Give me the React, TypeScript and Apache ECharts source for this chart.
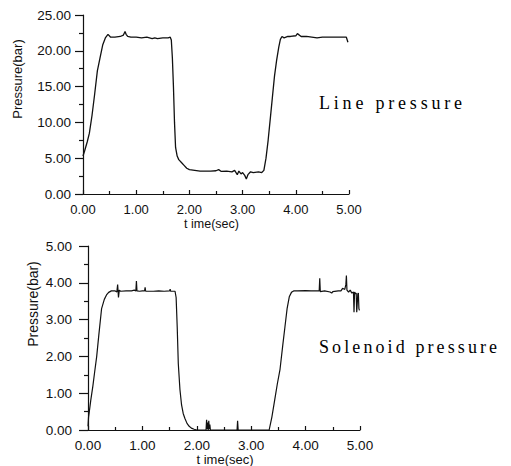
import React, { useEffect, useRef } from "react";
import * as echarts from "echarts";

// Line pressure (top chart): time in sec, pressure in bar
const lineTime = [0, 0.03, 0.08, 0.12, 0.17, 0.22, 0.27, 0.32, 0.37, 0.42, 0.47, 0.52, 0.6, 0.7, 0.76, 0.79, 0.81, 0.84, 0.9, 1.0, 1.1, 1.2, 1.3, 1.35, 1.4, 1.5, 1.6, 1.64, 1.66, 1.68, 1.7, 1.72, 1.74, 1.77, 1.8, 1.85, 1.9, 1.95, 2.0, 2.1, 2.2, 2.3, 2.4, 2.5, 2.55, 2.6, 2.7, 2.8, 2.85, 2.9, 2.93, 2.97, 3.0, 3.04, 3.07, 3.1, 3.15, 3.2, 3.3, 3.36, 3.4, 3.44, 3.48, 3.52, 3.56, 3.6, 3.64, 3.68, 3.71, 3.74, 3.78, 3.85, 3.9, 4.0, 4.03, 4.1, 4.2, 4.3, 4.4, 4.5, 4.6, 4.7, 4.8, 4.9, 4.95, 4.98];
const lineValues = [5.3, 6.0, 7.3, 8.5, 11, 14, 17.2, 19, 20.8, 21.8, 22.3, 21.9, 21.9, 22.0, 22.2, 22.7, 22.3, 22.0, 21.9, 21.9, 21.8, 21.9, 21.7, 21.8, 21.7, 21.8, 21.8, 21.9, 21.5, 19, 15, 10, 6.5, 5.3, 4.8, 4.4, 4.0, 3.6, 3.4, 3.3, 3.2, 3.2, 3.2, 3.25, 3.4, 3.15, 3.2, 3.1, 3.3, 2.7, 3.2, 2.8, 3.0, 2.6, 2.1, 2.7, 3.1, 3.0, 3.1, 3.0, 3.3, 5, 7.5, 10.5, 13.5, 16.5, 18.7, 20.5, 21.6, 22.0, 21.8, 22.0, 22.0, 22.1, 22.4, 22.0, 22.0, 21.9, 21.8, 21.9, 21.9, 21.9, 21.9, 21.9, 21.9, 21.2];

// Solenoid pressure (bottom chart)
const solTime = [0, 0.01, 0.02, 0.05, 0.09, 0.12, 0.16, 0.2, 0.25, 0.3, 0.34, 0.38, 0.43, 0.5, 0.53, 0.545, 0.56, 0.575, 0.6, 0.7, 0.8, 0.85, 0.88, 0.89, 0.9, 0.95, 1.0, 1.04, 1.05, 1.06, 1.1, 1.2, 1.3, 1.4, 1.5, 1.51, 1.52, 1.55, 1.6, 1.62, 1.64, 1.66, 1.69, 1.72, 1.75, 1.78, 1.82, 1.86, 1.9, 1.95, 2.0, 2.17, 2.18, 2.19, 2.2, 2.21, 2.22, 2.23, 2.24, 2.25, 2.3, 2.5, 2.74, 2.75, 2.76, 3.0, 3.2, 3.33, 3.38, 3.43, 3.48, 3.53, 3.58, 3.62, 3.66, 3.7, 3.74, 3.78, 3.85, 4.0, 4.1, 4.2, 4.25, 4.26, 4.27, 4.35, 4.45, 4.48, 4.5, 4.6, 4.65, 4.68, 4.72, 4.74, 4.75, 4.76, 4.79, 4.82, 4.85, 4.88, 4.89, 4.9, 4.92, 4.93, 4.94, 4.96, 4.97, 4.98, 4.99];
const solValues = [0.1, 0.35, 0.45, 0.8, 1.2, 1.55, 2.0, 2.6, 3.3, 3.55, 3.67, 3.74, 3.78, 3.78, 3.75, 3.95, 3.6, 3.8, 3.77, 3.78, 3.78, 3.8, 3.78, 4.05, 3.78, 3.77, 3.78, 3.78, 3.88, 3.77, 3.77, 3.77, 3.78, 3.77, 3.78, 3.83, 3.77, 3.77, 3.77, 3.6, 2.8, 1.8, 1.1, 0.68, 0.45, 0.32, 0.18, 0.1, 0.05, 0.02, 0, 0, 0.28, 0.02, 0.2, 0, 0.25, 0.02, 0.15, 0, 0, 0, 0, 0.25, 0, 0, 0, 0, 0.35, 0.8, 1.25, 1.65, 2.3, 2.8, 3.3, 3.62, 3.74, 3.78, 3.78, 3.79, 3.78, 3.78, 3.78, 4.12, 3.76, 3.78, 3.75, 3.72, 3.76, 3.78, 3.78, 3.85, 3.82, 3.95, 4.2, 3.8, 3.75, 3.8, 3.72, 3.75, 3.2, 3.75, 3.7, 3.72, 3.2, 3.7, 3.72, 3.3, 3.25];

const xTicks = [0, 1, 2, 3, 4, 5];
const topYMax = 25;
const topYStep = 5;
const botYMax = 5;
const botYStep = 1;

const INK = "#111111";
const SANS = "'Liberation Sans', Arial, sans-serif";
const SERIF = "'Liberation Serif', 'Times New Roman', serif";

export default function App() {
  const ref = useRef<HTMLDivElement>(null);
  useEffect(() => {
    if (!ref.current) return;
    const chart = echarts.init(ref.current, undefined, { renderer: "svg" });
    const fmt = (v: number) => v.toFixed(2);
    const xAxisBase = (gridIndex: number, fs: number, margin: number) => ({
      type: "value" as const,
      gridIndex,
      min: xTicks[0],
      max: xTicks[xTicks.length - 1],
      interval: 1,
      axisLine: { show: true, onZero: false, lineStyle: { color: INK, width: 1.2 } },
      axisTick: { show: true, inside: true, length: 4, lineStyle: { color: INK, width: 1.2 } },
      minorTick: { show: true, splitNumber: 2, length: 3, lineStyle: { color: INK, width: 1.2 } },
      axisLabel: { color: INK, fontFamily: SANS, fontSize: fs, margin, formatter: fmt },
      splitLine: { show: false },
    });
    const yAxisBase = (gridIndex: number, max: number, step: number, fs: number, margin: number, tl: number) => ({
      type: "value" as const,
      gridIndex,
      min: 0,
      max,
      interval: step,
      axisLine: { show: true, lineStyle: { color: INK, width: 1.2 } },
      axisTick: { show: true, inside: false, length: tl, lineStyle: { color: INK, width: 1.2 } },
      minorTick: { show: true, splitNumber: 2, length: 4, lineStyle: { color: INK, width: 1.2 } },
      axisLabel: { color: INK, fontFamily: SANS, fontSize: fs, margin, formatter: fmt },
      splitLine: { show: false },
    });
    chart.setOption({
      animation: false,
      backgroundColor: "#ffffff",
      grid: [
        { left: 83, top: 15, width: 266, height: 179 },
        { left: 88, top: 246, width: 272, height: 184 },
      ],
      xAxis: [xAxisBase(0, 13, 9), xAxisBase(1, 13.5, 8)],
      yAxis: [yAxisBase(0, topYMax, topYStep, 13.5, 12, 8), yAxisBase(1, botYMax, botYStep, 13.5, 16, 9)],
      series: [
        {
          type: "line",
          xAxisIndex: 0,
          yAxisIndex: 0,
          showSymbol: false,
          data: lineTime.map((t, i) => [t, lineValues[i]]),
          lineStyle: { color: INK, width: 1.3 },
        },
        {
          type: "line",
          xAxisIndex: 1,
          yAxisIndex: 1,
          showSymbol: false,
          data: solTime.map((t, i) => [t, solValues[i]]),
          lineStyle: { color: INK, width: 1.2 },
        },
      ],
      graphic: [
        {
          type: "text", x: 17.5, y: 79, rotation: Math.PI / 2,
          style: { text: "Pressure(bar)", fill: INK, font: `13px ${SANS}`, align: "center", verticalAlign: "middle" },
        },
        {
          type: "text", x: 32.5, y: 304, rotation: Math.PI / 2,
          style: { text: "Pressure(bar)", fill: INK, font: `14px ${SANS}`, align: "center", verticalAlign: "middle" },
        },
        {
          type: "text", x: 211.5, y: 223.5,
          style: { text: "t ime(sec)", fill: INK, font: `12.5px ${SANS}`, align: "center", verticalAlign: "middle" },
        },
        {
          type: "text", x: 225, y: 459.5,
          style: { text: "t ime(sec)", fill: INK, font: `13px ${SANS}`, align: "center", verticalAlign: "middle" },
        },
        {
          type: "text", x: 319, y: 103,
          style: { text: "Line pressure", fill: "#000001", font: `18px ${SERIF}`, align: "left", verticalAlign: "middle" },
        },
        {
          type: "text", x: 319, y: 346.5,
          style: { text: "Solenoid pressure", fill: "#000002", font: `18px ${SERIF}`, align: "left", verticalAlign: "middle" },
        },
      ],
    });
    return () => chart.dispose();
  }, []);
  return (
    <>
      <style>{`
        body { margin: 0; }
        text[fill="#000001"], text[fill="rgb(0,0,1)"] { letter-spacing: 3.8px; }
        text[fill="#000002"], text[fill="rgb(0,0,2)"] { letter-spacing: 3.1px; }
      `}</style>
      <div ref={ref} style={{ position: "fixed", left: 0, top: 0, width: 511, height: 466 }} />
    </>
  );
}
